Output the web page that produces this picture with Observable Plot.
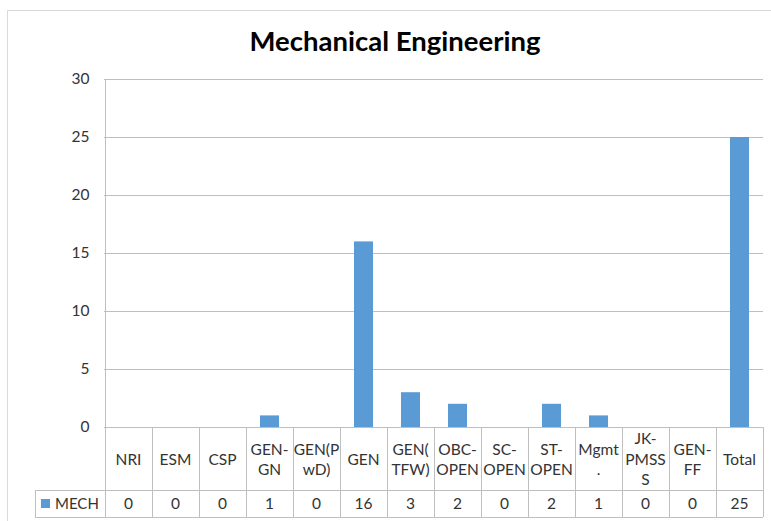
<!DOCTYPE html>
<html>
<head>
<meta charset="utf-8">
<script src="https://cdn.jsdelivr.net/npm/d3@7"></script>
<script src="https://cdn.jsdelivr.net/npm/@observablehq/plot@0.6"></script>
<style>
  html, body { margin: 0; padding: 0; background: #fff; }
  #chart svg { display: block; }
</style>
</head>
<body>
<div id="chart"></div>
<script>
const title = "Mechanical Engineering";
const seriesName = "MECH";
const categories = ["NRI", "ESM", "CSP", "GEN-GN", "GEN(PwD)", "GEN", "GEN(TFW)", "OBC-OPEN", "SC-OPEN", "ST-OPEN", "Mgmt.", "JK-PMSSS", "GEN-FF", "Total"];
const categoryLines = [["NRI"], ["ESM"], ["CSP"], ["GEN-", "GN"], ["GEN(P", "wD)"], ["GEN"], ["GEN(", "TFW)"], ["OBC-", "OPEN"], ["SC-", "OPEN"], ["ST-", "OPEN"], ["Mgmt", "."], ["JK-", "PMSS", "S"], ["GEN-", "FF"], ["Total"]];
const values = [0, 0, 0, 1, 0, 16, 3, 2, 0, 2, 1, 0, 0, 25];
const yTicks = [0, 5, 10, 15, 20, 25, 30];

const data = categories.map((c, i) => ({cat: c, value: values[i]}));
const FONT = "Lato, 'Open Sans', sans-serif";
const BLUE = "#5B9BD5";
const LINE = "#BFBFBF";
const TEXT = "#333333";

const W = 771, H = 521;
const plot = Plot.plot({
  width: W,
  height: H,
  marginLeft: 104,
  marginRight: 8,
  marginTop: 79,
  marginBottom: 94,
  style: {fontFamily: FONT, background: "#fff", color: TEXT},
  x: {domain: categories, paddingInner: 0.6, paddingOuter: 0.3, axis: null},
  y: {domain: [0, 30], ticks: yTicks, label: null},
  marks: [
    Plot.gridY(yTicks, {stroke: LINE, strokeOpacity: 1}),
    Plot.axisY(yTicks, {tickSize: 0, tickPadding: 15, fontSize: 15.5, label: null, fill: TEXT}),
    Plot.barY(data, {x: "cat", y: "value", fill: BLUE})
  ]
});

const svg = d3.select(plot);
const xs = plot.scale("x");
const ys = plot.scale("y");
const step = xs.step, bw = xs.bandwidth;
const left = (c) => xs.apply(c) - (step - bw) / 2;
const x0 = left(categories[0]);
const x1 = left(categories[categories.length - 1]) + step;
const yTop = ys.apply(30);
const yZero = ys.apply(0);
const rowSep = yZero + 63;
const yBottom = yZero + 90;
const legendLeft = 35;

const g = svg.append("g").attr("font-family", FONT).attr("fill", TEXT);

// outer chart border
g.append("line").attr("x1", 7.5).attr("x2", 7.5).attr("y1", 10.5).attr("y2", H).attr("stroke", "#D9D9D9");
g.append("line").attr("x1", 7.5).attr("x2", W).attr("y1", 10.5).attr("y2", 10.5).attr("stroke", "#D9D9D9");

// title
g.append("text").attr("x", 395).attr("y", 51).attr("text-anchor", "middle")
  .attr("font-size", 27.5).attr("font-weight", "bold").attr("fill", "#000").text(title);

// value axis line
g.append("line").attr("x1", x0 + 0.5).attr("x2", x0 + 0.5).attr("y1", yTop).attr("y2", yBottom).attr("stroke", LINE);

// table horizontal lines
g.append("line").attr("x1", x0).attr("x2", x1).attr("y1", yZero + 0.5).attr("y2", yZero + 0.5).attr("stroke", LINE);
g.append("line").attr("x1", legendLeft).attr("x2", x1).attr("y1", rowSep + 0.5).attr("y2", rowSep + 0.5).attr("stroke", LINE);
g.append("line").attr("x1", legendLeft).attr("x2", x1).attr("y1", yBottom + 0.5).attr("y2", yBottom + 0.5).attr("stroke", LINE);
g.append("line").attr("x1", legendLeft + 0.5).attr("x2", legendLeft + 0.5).attr("y1", rowSep).attr("y2", yBottom).attr("stroke", LINE);

categories.forEach((c, i) => {
  const xr = left(c) + step;
  g.append("line").attr("x1", Math.round(xr) + 0.5).attr("x2", Math.round(xr) + 0.5)
    .attr("y1", yZero).attr("y2", yBottom).attr("stroke", LINE);
  const cx = left(c) + step / 2;
  const lines = categoryLines[i];
  const lh = 20.5;
  const midY = (yZero + rowSep) / 2 + 1;
  const startY = midY - (lines.length - 1) * lh / 2;
  lines.forEach((t, j) => {
    g.append("text").attr("x", cx).attr("y", startY + j * lh).attr("dy", "0.35em")
      .attr("text-anchor", "middle").attr("font-size", 15.5).text(t);
  });
  g.append("text").attr("x", cx).attr("y", (rowSep + yBottom) / 2).attr("dy", "0.35em")
    .attr("text-anchor", "middle").attr("font-size", 15.5).text(values[i]);
});

// legend key in table
g.append("rect").attr("x", 41).attr("y", (rowSep + yBottom) / 2 - 4.5).attr("width", 9).attr("height", 9).attr("fill", BLUE);
g.append("text").attr("x", 55).attr("y", (rowSep + yBottom) / 2).attr("dy", "0.35em")
  .attr("text-anchor", "start").attr("font-size", 15).text(seriesName);

document.getElementById("chart").appendChild(plot);
</script>
</body>
</html>
